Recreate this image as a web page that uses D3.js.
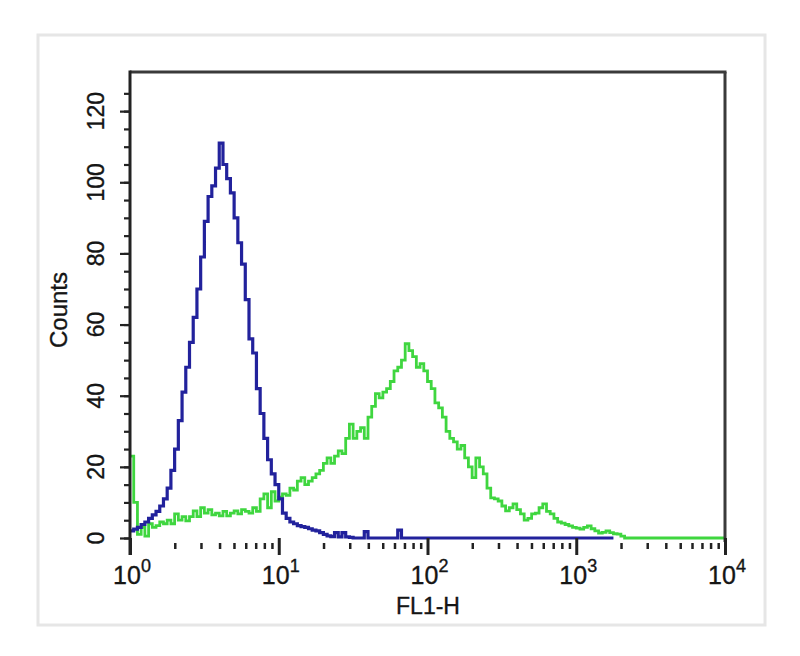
<!DOCTYPE html>
<html>
<head>
<meta charset="utf-8">
<script src="https://cdn.jsdelivr.net/npm/d3@7"></script>
<style>
  html, body { margin: 0; padding: 0; background: #ffffff; }
  svg { display: block; }
  text { font-family: "Liberation Sans", Arial, sans-serif; fill: #151515; stroke: #151515; stroke-width: 0.35px; }
</style>
</head>
<body>
<svg id="chart" width="800" height="656"></svg>
<script>
// ---- data ----
const channelsPerDecade = 40;          // histogram channel width: 0.025 decade
const xDecades = [1, 10, 100, 1000, 10000];
const xDecadeExponents = ["0", "1", "2", "3", "4"];
const yTicks = [0, 20, 40, 60, 80, 100, 120];
const yMax = 131;
const xLabel = "FL1-H";
const yLabel = "Counts";

// blue (control) histogram counts per channel
const blueCounts = [
  2, 2.5, 3, 3.8, 4.5, 5.5, 6.5, 7.5, 9, 11,
  14, 19, 25, 33, 41, 48, 55, 62, 70, 79,
  89, 96, 99, 104, 111, 105, 101, 97, 90, 83,
  77, 67, 56, 52, 42, 35, 28, 22, 18, 15,
  11, 7, 5.5, 4.5, 4, 3.5, 3.2, 3, 2.6, 2.2,
  2, 1.5, 1, 0.6, 0.4, 1.5, 0.3, 1.5, 0.3, 0.2,
  0, 0, 0, 1.8, 0, 0, 0, 0, 0, 0,
  0, 0, 2.2, 0, 0, 0, 0, 0, 0, 0,
  0, 0, 0, 0, 0, 0, 0, 0, 0, 0,
  0, 0, 0, 0, 0, 0, 0, 0, 0, 0,
  0, 0, 0, 0, 0, 0, 0, 0, 0, 0,
  0, 0, 0, 0, 0, 0, 0, 0, 0, 0,
  0, 0, 0, 0, 0, 0, 0, 0, 0, 0
];

// green (antibody) histogram counts per channel
const greenCounts = [
  23, 10, 1, 3, 0.5, 4, 3, 3.5, 4.5, 4,
  5, 4, 6.8, 5, 6, 4.8, 6, 7.6, 6, 8.5,
  7, 8, 6.5, 7, 6.2, 7.5, 6.2, 7, 7.6, 6.8,
  8, 7.5, 7, 8.5, 7.5, 11, 12.4, 8.5, 13, 10.4,
  11.5, 12.4, 12, 14, 13.5, 16, 17, 15, 16, 17,
  18, 19, 21, 22.5, 21, 23, 24.5, 23.7, 28, 32,
  28, 30, 31, 28, 34, 37, 40.6, 39.4, 41, 42,
  44, 47, 48, 50, 54.6, 52.7, 51, 48, 49, 47,
  44, 42, 38, 36.6, 34, 30, 28, 27, 25, 26,
  22.5, 20, 17, 22.5, 20, 18, 14, 11.3, 11, 10.4,
  9, 7.6, 8.5, 9.6, 8, 6.8, 5, 5.5, 6.8, 7,
  8.5, 9.6, 7.5, 6.8, 5.5, 4.5, 4.2, 3.8, 3.4, 3,
  2.8, 2.5, 3, 3.4, 2.6, 2, 1.4, 1.6, 2, 1.5,
  1.2, 1.1, 0.5, 0, 0, 0, 0, 0, 0, 0,
  0, 0, 0, 0, 0, 0, 0, 0, 0, 0,
  0, 0, 0, 0, 0, 0, 0, 0, 0, 0
];

// ---- layout ----
const svg = d3.select("#chart");
const mLeft = 130, mRight = 725, mTop = 72, mBottom = 538;

const x = d3.scaleLog().domain([1, 10000]).range([mLeft, mRight]);
const y = d3.scaleLinear().domain([0, yMax]).range([mBottom, mTop]);

// faint outer frame of the original figure
svg.append("rect")
  .attr("x", 38).attr("y", 35).attr("width", 727).attr("height", 590)
  .attr("fill", "none").attr("stroke", "#e6e6e6").attr("stroke-width", 3);

function toPoints(counts) {
  const pts = counts.map((c, i) => ({ x: Math.pow(10, i / channelsPerDecade), y: c }));
  const last = counts.length;
  pts.push({ x: Math.pow(10, last / channelsPerDecade), y: counts[counts.length - 1] });
  return pts;
}

const line = d3.line()
  .x(d => x(d.x))
  .y(d => y(d.y))
  .curve(d3.curveStepAfter);

const plot = svg.append("g");

plot.append("path")
  .datum(toPoints(greenCounts))
  .attr("d", line)
  .attr("fill", "none")
  .attr("stroke", "#3fd63f")
  .attr("stroke-width", 2.8)
  .attr("stroke-linejoin", "miter");

plot.append("path")
  .datum(toPoints(blueCounts))
  .attr("d", line)
  .attr("fill", "none")
  .attr("stroke", "#22229c")
  .attr("stroke-width", 3.2)
  .attr("stroke-linejoin", "miter");

// frame: top and right edges
svg.append("line")
  .attr("x1", mLeft).attr("x2", mRight + 1.5).attr("y1", mTop).attr("y2", mTop)
  .attr("stroke", "#3a3a3a").attr("stroke-width", 3);
svg.append("line")
  .attr("x1", mRight).attr("x2", mRight).attr("y1", mTop).attr("y2", mBottom + 4)
  .attr("stroke", "#3a3a3a").attr("stroke-width", 3);

// ---- y axis ----
const yMinor = d3.range(0, 126, 5);
const yAxisMinor = d3.axisLeft(y).tickValues(yMinor).tickSize(6).tickFormat("");
const gyMinor = svg.append("g").attr("transform", `translate(${mLeft},0)`).call(yAxisMinor);
gyMinor.select(".domain").remove();
gyMinor.selectAll(".tick line").attr("stroke", "#222").attr("stroke-width", 2.2);

const yAxis = d3.axisLeft(y).tickValues(yTicks).tickSize(10).tickFormat("");
const gy = svg.append("g").attr("transform", `translate(${mLeft},0)`).call(yAxis);
gy.select(".domain").remove();
gy.selectAll(".tick line").attr("stroke", "#222").attr("stroke-width", 2.2);

svg.append("line")
  .attr("x1", mLeft).attr("x2", mLeft).attr("y1", mTop - 1.5).attr("y2", mBottom + 17)
  .attr("stroke", "#222").attr("stroke-width", 3);

svg.append("g").selectAll("text")
  .data(yTicks)
  .join("text")
  .attr("transform", d => `translate(104,${y(d)}) rotate(-90)`)
  .attr("text-anchor", "middle")
  .attr("font-size", 23)
  .text(d => d);

svg.append("text")
  .attr("transform", `translate(67,310) rotate(-90)`)
  .attr("text-anchor", "middle")
  .attr("font-size", 24)
  .text(yLabel);

// ---- x axis ----
const xMinor = [];
for (let k = 0; k < 4; k++) {
  for (let m = 2; m <= 9; m++) xMinor.push(m * xDecades[k]);
}
const gxMinor = svg.append("g").attr("transform", `translate(0,${mBottom + 5})`)
  .call(d3.axisBottom(x).tickValues(xMinor).tickSize(6).tickFormat(""));
gxMinor.select(".domain").remove();
gxMinor.selectAll(".tick line").attr("stroke", "#222").attr("stroke-width", 2.5);

const gx = svg.append("g").attr("transform", `translate(0,${mBottom})`)
  .call(d3.axisBottom(x).tickValues(xDecades).tickSize(17).tickFormat(""));
gx.select(".domain").remove();
gx.selectAll(".tick line").attr("stroke", "#222").attr("stroke-width", 3);

const xt = svg.append("g").selectAll("text")
  .data(xDecades)
  .join("text")
  .attr("x", d => x(d) + 2)
  .attr("y", 584)
  .attr("text-anchor", "middle")
  .attr("font-size", 25);
xt.append("tspan").text("10");
xt.append("tspan")
  .attr("dy", -12)
  .attr("font-size", 18)
  .text((d, i) => xDecadeExponents[i]);

svg.append("text")
  .attr("x", 428).attr("y", 614)
  .attr("text-anchor", "middle")
  .attr("font-size", 23)
  .text(xLabel);
</script>
</body>
</html>
